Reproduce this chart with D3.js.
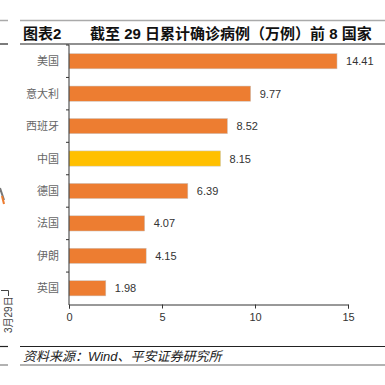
<!DOCTYPE html>
<html>
<head>
<meta charset="utf-8" />
<style>
  body { margin: 0; background: #fff; }
  text { font-family: "Liberation Sans", "Noto Sans CJK SC", sans-serif; }
</style>
<script src="https://d3js.org/d3.v7.min.js"></script>
</head>
<body>
<script>
  var countries = ["美国", "意大利", "西班牙", "中国", "德国", "法国", "伊朗", "英国"];
  var cases = [14.41, 9.77, 8.52, 8.15, 6.39, 4.07, 4.15, 1.98];
  var xTicks = [0, 5, 10, 15];
  var highlight = "中国";

  var width = 385, height = 385;

  var svg = d3.select("body").append("svg")
      .attr("width", width)
      .attr("height", height);

  // frame lines round the title and the source note
  svg.append("line").attr("x1", 20).attr("x2", 385).attr("y1", 20.5).attr("y2", 20.5)
      .attr("stroke", "#aaa").attr("stroke-width", 1.5);
  svg.append("line").attr("x1", 0).attr("x2", 8).attr("y1", 20.5).attr("y2", 20.5)
      .attr("stroke", "#aaa").attr("stroke-width", 1.5);
  svg.append("line").attr("x1", 20).attr("x2", 385).attr("y1", 44).attr("y2", 44)
      .attr("stroke", "#222").attr("stroke-width", 1.2);
  svg.append("line").attr("x1", 0).attr("x2", 8).attr("y1", 44).attr("y2", 44)
      .attr("stroke", "#222").attr("stroke-width", 1.2);
  svg.append("line").attr("x1", 20).attr("x2", 385).attr("y1", 346.5).attr("y2", 346.5)
      .attr("stroke", "#222").attr("stroke-width", 1.2);
  svg.append("line").attr("x1", 0).attr("x2", 8).attr("y1", 346.5).attr("y2", 346.5)
      .attr("stroke", "#222").attr("stroke-width", 1.2);
  svg.append("line").attr("x1", 20).attr("x2", 385).attr("y1", 365).attr("y2", 365)
      .attr("stroke", "#999").attr("stroke-width", 1.5);
  svg.append("line").attr("x1", 0).attr("x2", 8).attr("y1", 365).attr("y2", 365)
      .attr("stroke", "#999").attr("stroke-width", 1.5);

  // title
  svg.append("text").attr("x", 23).attr("y", 38.5)
      .attr("font-size", 15).attr("font-weight", "bold").attr("fill", "#111")
      .text("图表2");
  svg.append("text").attr("x", 90).attr("y", 38.5)
      .attr("font-size", 15).attr("font-weight", "bold").attr("fill", "#111")
      .text("截至 29 日累计确诊病例（万例）前 8 国家");

  // source
  svg.append("text").attr("x", 23).attr("y", 360.5)
      .attr("font-size", 13).attr("font-style", "italic").attr("fill", "#222")
      .text("资料来源：Wind、平安证券研究所");

  // leftover of the neighbouring chart
  svg.append("text")
      .attr("transform", "translate(11.5,333) rotate(-90)")
      .attr("font-size", 10).attr("fill", "#444")
      .text("3月29日");
  svg.append("path").attr("d", "M1,290.5H8.5V296").attr("fill", "none").attr("stroke", "#444");
  svg.append("path").attr("d", "M0,188L4,200").attr("stroke", "#777").attr("stroke-width", 2);
  svg.append("path").attr("d", "M2,196L4,204").attr("stroke", "#ED7D31").attr("stroke-width", 2);

  // chart
  var x = d3.scaleLinear().domain([0, 15]).range([69, 348]);
  var y = d3.scaleBand().domain(countries).range([45, 304.5]).paddingInner(0.53).paddingOuter(0.265);

  svg.selectAll(".bar").data(countries).enter().append("rect")
      .attr("class", "bar")
      .attr("x", x(0))
      .attr("y", function (d) { return y(d); })
      .attr("width", function (d, i) { return x(cases[i]) - x(0); })
      .attr("height", y.bandwidth())
      .attr("fill", function (d) { return d === highlight ? "#FFC000" : "#ED7D31"; })
      .attr("stroke", "#c9c9c9").attr("stroke-width", 0.5);

  svg.selectAll(".val").data(countries).enter().append("text")
      .attr("class", "val")
      .attr("x", function (d, i) { return x(cases[i]) + 9; })
      .attr("y", function (d) { return y(d) + y.bandwidth() / 2 + 4; })
      .attr("font-size", 11).attr("fill", "#333")
      .text(function (d, i) { return cases[i].toFixed(2); });

  svg.selectAll(".cat").data(countries).enter().append("text")
      .attr("class", "cat")
      .attr("x", 59)
      .attr("y", function (d) { return y(d) + y.bandwidth() / 2 + 4; })
      .attr("text-anchor", "end")
      .attr("font-size", 11).attr("fill", "#666")
      .text(function (d) { return d; });

  // y axis line with ticks at the band boundaries
  svg.append("line").attr("x1", 69).attr("x2", 69).attr("y1", 45).attr("y2", 305)
      .attr("stroke", "#333");
  var step = y.step();
  svg.selectAll(".ytick").data(countries).enter().append("line")
      .attr("x1", 66).attr("x2", 69)
      .attr("y1", function (d) { return y(d) - y.paddingInner() * step / 2; })
      .attr("y2", function (d) { return y(d) - y.paddingInner() * step / 2; })
      .attr("stroke", "#333");

  var xAxis = svg.append("g")
      .attr("transform", "translate(0,304.5)")
      .call(d3.axisBottom(x).tickValues(xTicks).tickSize(4).tickPadding(5));
  xAxis.select(".domain").attr("stroke", "#333");
  xAxis.selectAll(".tick line").attr("stroke", "#333");
  xAxis.selectAll("text").attr("font-size", 11).attr("fill", "#333")
      .attr("font-family", "Liberation Sans, sans-serif");
</script>
</body>
</html>
